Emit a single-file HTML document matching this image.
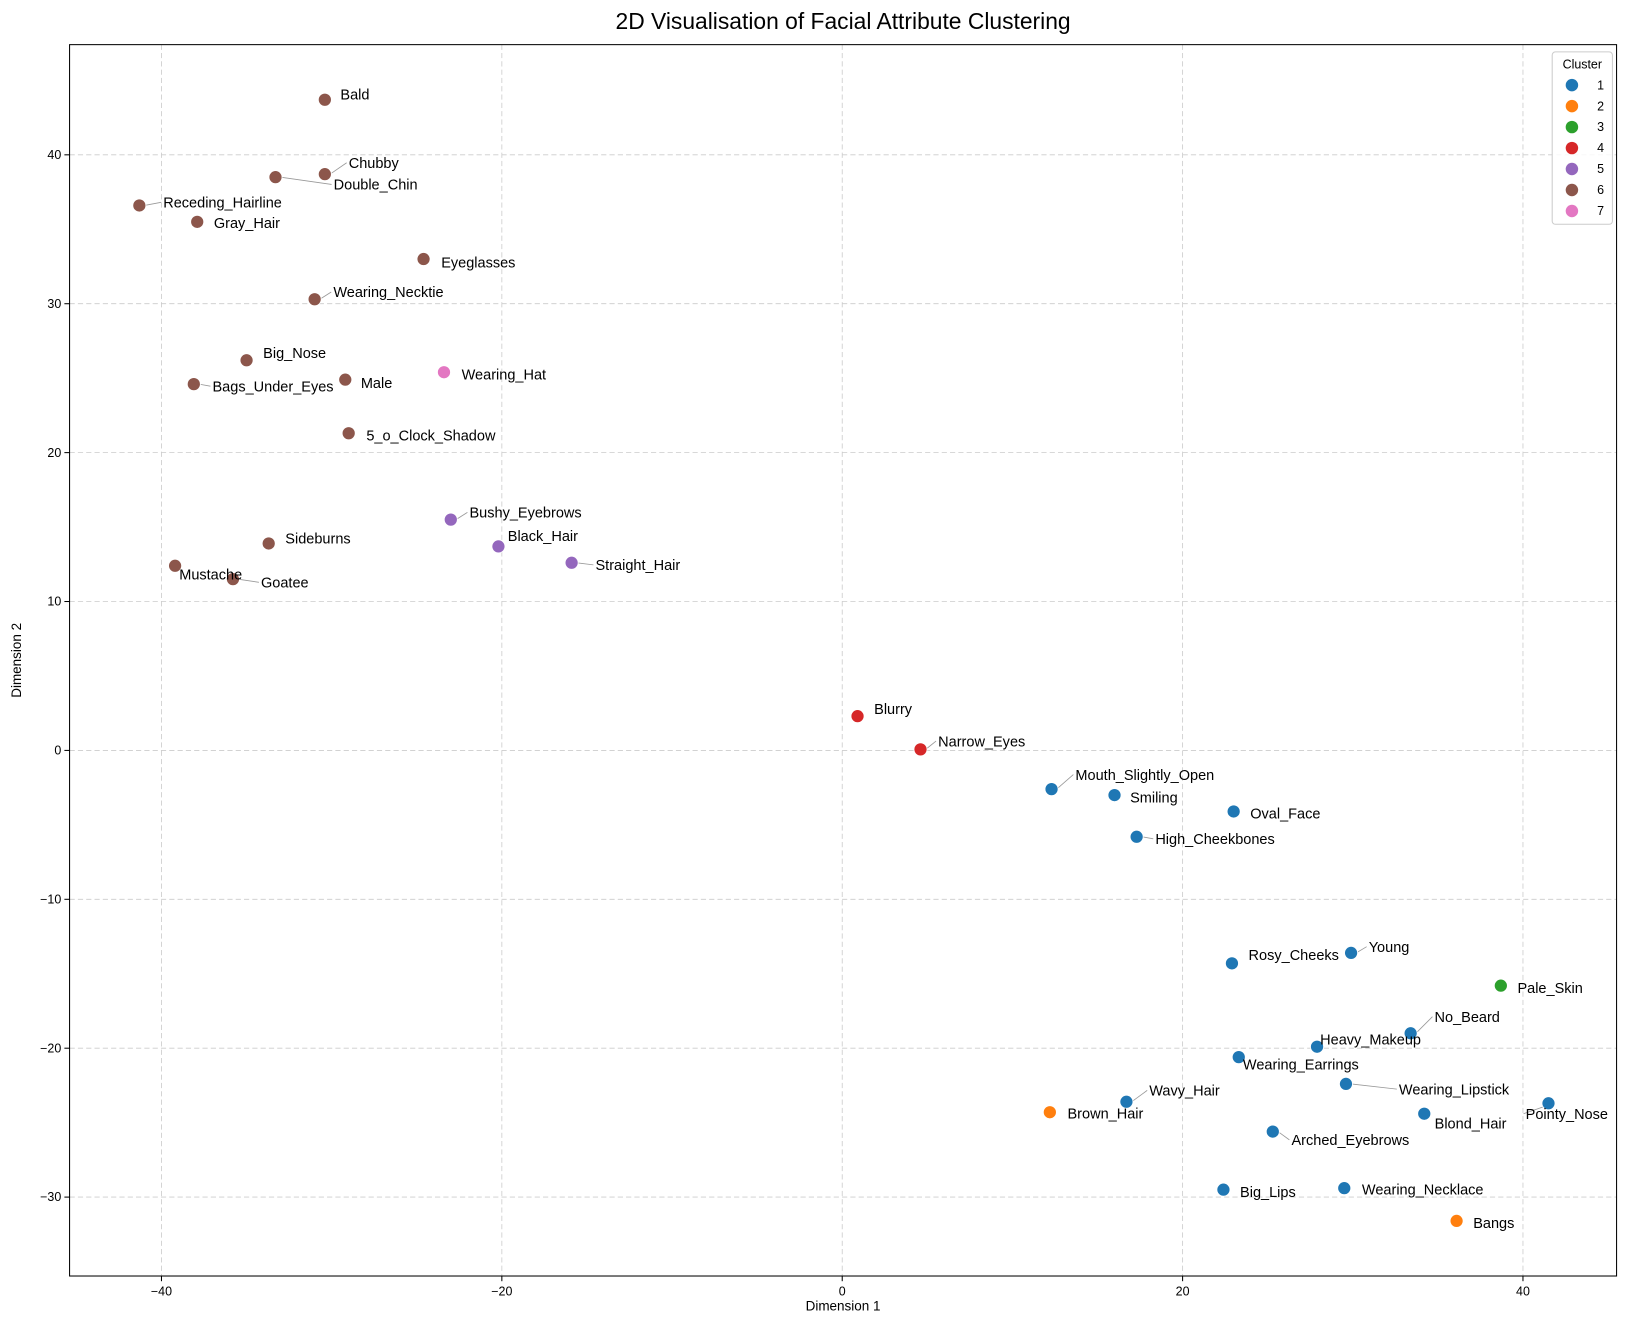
<!DOCTYPE html>
<html><head><meta charset="utf-8"><style>
html,body{margin:0;padding:0;background:#fff;}
svg{display:block;font-family:"Liberation Sans","DejaVu Sans",sans-serif;}
</style></head><body>
<svg id="chart" width="1628" height="1330" viewBox="0 0 1568 1281" xmlns="http://www.w3.org/2000/svg">
<rect width="1568" height="1281" fill="#fff"/>
<text x="812" y="28" font-size="22" text-anchor="middle">2D Visualisation of Facial Attribute Clustering</text>
<g id="grid"></g>
<g id="leaders"></g>
<g id="points"></g>
<g id="labels"></g>
<rect x="67" y="43" width="1490" height="1186" fill="none" stroke="#000" stroke-width="1"/>
<g id="ticks"></g>
<text x="812" y="1262" font-size="13" text-anchor="middle">Dimension 1</text>
<text x="20" y="636" font-size="13" text-anchor="middle" transform="rotate(-90 20 636)">Dimension 2</text>
<g id="legend"></g>
</svg>
<script>
const names=["Bald","Chubby","Double_Chin","Receding_Hairline","Gray_Hair","Eyeglasses","Wearing_Necktie","Big_Nose","Bags_Under_Eyes","Male","Wearing_Hat","5_o_Clock_Shadow","Bushy_Eyebrows","Black_Hair","Straight_Hair","Sideburns","Mustache","Goatee","Blurry","Narrow_Eyes","Mouth_Slightly_Open","Smiling","Oval_Face","High_Cheekbones","Young","Rosy_Cheeks","Pale_Skin","No_Beard","Heavy_Makeup","Wearing_Earrings","Wearing_Lipstick","Pointy_Nose","Blond_Hair","Wavy_Hair","Brown_Hair","Arched_Eyebrows","Big_Lips","Wearing_Necklace","Bangs"];
const dim1=[-30.4,-30.4,-33.3,-41.3,-37.9,-24.6,-31.0,-35.0,-38.1,-29.2,-23.4,-29.0,-23.0,-20.2,-15.9,-33.7,-39.2,-35.8,0.9,4.6,12.3,16.0,23.0,17.3,29.9,22.9,38.7,33.4,27.9,23.3,29.6,41.5,34.2,16.7,12.2,25.3,22.4,29.5,36.1];
const dim2=[43.7,38.7,38.5,36.6,35.5,33.0,30.3,26.2,24.6,24.9,25.4,21.3,15.5,13.7,12.6,13.9,12.4,11.5,2.3,0.07,-2.6,-3.0,-4.1,-5.8,-13.6,-14.3,-15.8,-19.0,-19.9,-20.6,-22.4,-23.7,-24.4,-23.6,-24.3,-25.6,-29.5,-29.4,-31.6];
const cluster=[6,6,6,6,6,6,6,6,6,6,7,6,5,5,5,6,6,6,4,4,1,1,1,1,1,1,3,1,1,1,1,1,1,1,2,1,1,1,2];
const xTicks=[-40,-20,0,20,40];
const yTicks=[-30,-20,-10,0,10,20,30,40];
const clusterIds=[1,2,3,4,5,6,7];
const colors={1:"#1f77b4",2:"#ff7f0e",3:"#2ca02c",4:"#d62728",5:"#9467bd",6:"#8c564b",7:"#e377c2"};
const off=[[15,-5],[23,-11],[56,7],[23,-3],[16,1],[17,3],[18,-7],[16,-7],[18,2],[15,3],[17,2],[17,2],[18,-7],[9,-10],[23,2],[16,-5],[4,8],[27,3],[16,-7],[17,-8],[23,-14],[15,2],[16,2],[18,2],[17,-6],[16,-8],[16,2],[23,-16],[3,-7],[4,7],[51,5],[-22,10],[10,9],[22,-11],[17,1],[18,8],[16,2],[17,1],[16,2]];
const X0=67,X1=1557,Y0=43,Y1=1229,xmin=-45.4,xmax=45.5,ymin=-35.3,ymax=47.4;
const sx=v=>X0+(v-xmin)/(xmax-xmin)*(X1-X0);
const sy=v=>Y1-(v-ymin)/(ymax-ymin)*(Y1-Y0);
const NS="http://www.w3.org/2000/svg";
function mk(t,a,p){const e=document.createElementNS(NS,t);for(const k in a)e.setAttribute(k,a[k]);p.appendChild(e);return e;}
const G=id=>document.getElementById(id);
xTicks.forEach(t=>{const x=sx(t);
 const g=mk("line",{x1:x,x2:x,y1:Y0,y2:Y1,stroke:"#ccc","stroke-dasharray":"5,3","stroke-width":0.8},G("grid"));
 
 mk("line",{x1:x,x2:x,y1:Y1,y2:Y1+5,stroke:"#000"},G("ticks"));
 const l=mk("text",{x:x,y:Y1+19,"font-size":12,"text-anchor":"middle"},G("ticks"));l.textContent=t<0?"\u2212"+(-t):t;
 });
yTicks.forEach(t=>{const y=sy(t);
 const g=mk("line",{x1:X0,x2:X1,y1:y,y2:y,stroke:"#ccc","stroke-dasharray":"5,3","stroke-width":0.8},G("grid"));
 
 mk("line",{x1:X0-5,x2:X0,y1:y,y2:y,stroke:"#000"},G("ticks"));
 const l=mk("text",{x:X0-8,y:y+4,"font-size":12,"text-anchor":"end"},G("ticks"));l.textContent=t<0?"\u2212"+(-t):t;
 });
names.forEach((n,i)=>{const x=sx(dim1[i]),y=sy(dim2[i]);const [dx,dy]=off[i];
 if(Math.hypot(dx,dy)>18){const ln=mk("line",{x1:x+5,y1:y,x2:x+dx-2,y2:y+dy,stroke:"#999","stroke-width":0.8},G("leaders"));
  }
 const c=mk("circle",{cx:x,cy:y,r:6.3,fill:colors[cluster[i]],stroke:"#fff","stroke-width":0.8},G("points"));
 
 const t=mk("text",{x:x+dx,y:y+dy+5,"font-size":14},G("labels"));t.textContent=n;
 });
const L=G("legend");
const box=mk("rect",{x:1495,y:50,width:58,height:166,rx:3,fill:"#fff","fill-opacity":0.85,stroke:"#ccc"},L);

const lt=mk("text",{x:1524,y:66,"font-size":12,"text-anchor":"middle"},L);lt.textContent="Cluster";

clusterIds.forEach((c,i)=>{const y=82+i*20.2;
 const m=mk("circle",{cx:1514,cy:y,r:6,fill:colors[c]},L);
 
 const t=mk("text",{x:1545,y:y+4,"font-size":12,"text-anchor":"end"},L);t.textContent=c;
 });
</script>
</body></html>
